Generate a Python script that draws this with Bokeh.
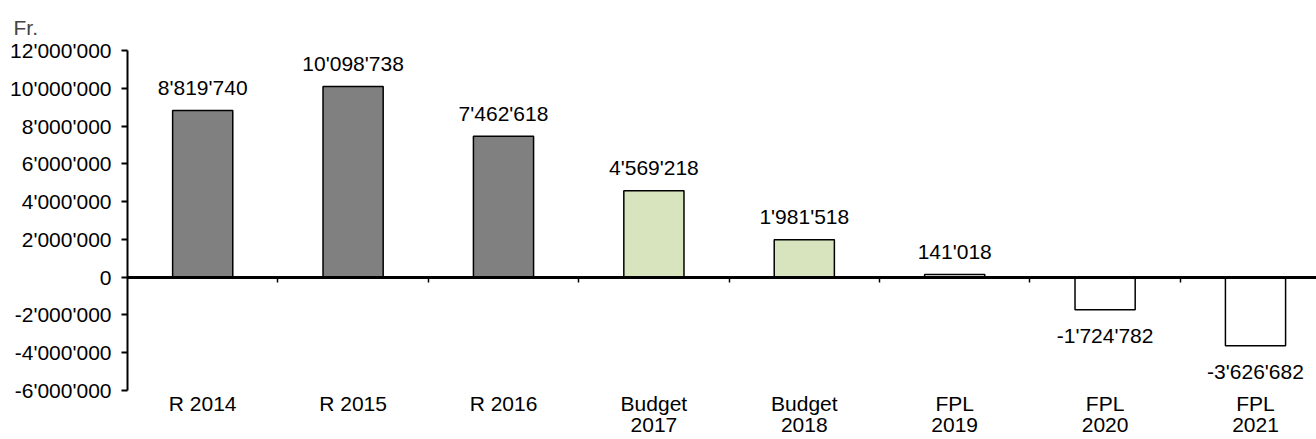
from bokeh.plotting import figure
from bokeh.models import Range1d, LinearAxis, FixedTicker, ColumnDataSource
from bokeh.core.properties import value
from bokeh.embed import file_html
from bokeh.resources import INLINE

categories = ["R 2014", "R 2015", "R 2016", "Budget\n2017", "Budget\n2018", "FPL\n2019", "FPL\n2020", "FPL\n2021"]
values = [8819740, 10098738, 7462618, 4569218, 1981518, 141018, -1724782, -3626682]
colors = ["#808080", "#808080", "#808080", "#D7E4BD", "#D7E4BD", "#FFFFFF", "#FFFFFF", "#FFFFFF"]
y_ticks = [-6000000, -4000000, -2000000, 0, 2000000, 4000000, 6000000, 8000000, 10000000, 12000000]
unit_label = "Fr."

FONT = "Liberation Sans"
FS = "21px"

def fmt(v):
    return f"{v:,}".replace(",", "'")

n = len(categories)
xc = [i + 0.5 for i in range(n)]

W, H = 1316, 439
LEFT, TOP, BOTTOM = 127, 50, 49
CAT_PX = 150.4
p = figure(width=W, height=H, output_backend="svg", toolbar_location=None,
           x_range=Range1d(0, (W - LEFT) / CAT_PX), y_range=Range1d(y_ticks[0], y_ticks[-1]),
           min_border_left=LEFT, min_border_right=0, min_border_top=TOP, min_border_bottom=BOTTOM,
           x_axis_type=None, y_axis_type=None)
p.outline_line_color = None
p.xgrid.visible = False
p.ygrid.visible = False

# unit label above the y axis
p.title.text = unit_label
p.title.align = "left"
p.title.offset = -114
p.title.text_font = FONT
p.title.text_font_size = FS
p.title.text_font_style = "normal"
p.title.standoff = 24

src = ColumnDataSource(dict(x=xc, top=values, color=colors))
p.vbar(x="x", top="top", bottom=0, width=0.4, source=src, fill_color="color",
       line_color="black", line_width=1.5)

pos = ColumnDataSource(dict(x=[x for x, v in zip(xc, values) if v >= 0],
                            y=[v for v in values if v >= 0],
                            t=[fmt(v) for v in values if v >= 0]))
neg = ColumnDataSource(dict(x=[x for x, v in zip(xc, values) if v < 0],
                            y=[v for v in values if v < 0],
                            t=[fmt(v) for v in values if v < 0]))
p.text(x="x", y="y", text="t", source=pos, text_align="center", text_baseline="alphabetic",
       y_offset=-23, text_font=value(FONT), text_font_size=FS, text_color="black")
p.text(x="x", y="y", text="t", source=neg, text_align="center", text_baseline="top",
       y_offset=14, text_font=value(FONT), text_font_size=FS, text_color="black")

# y axis
yax = LinearAxis(ticker=FixedTicker(ticks=y_ticks),
                 major_label_overrides={t: fmt(t) for t in y_ticks})
yax.axis_line_width = 2
yax.major_tick_line_width = 2
yax.major_tick_in = 0
yax.major_tick_out = 6
yax.minor_tick_line_color = None
yax.major_label_standoff = 10
yax.major_label_text_font = FONT
yax.major_label_text_font_size = FS
yax.major_label_text_color = "black"
p.add_layout(yax, "left")

# zero axis with category separators (no labels)
zax = LinearAxis(fixed_location=0, ticker=FixedTicker(ticks=list(range(1, n))))
zax.axis_line_width = 3
zax.major_tick_line_width = 1.5
zax.major_tick_in = 0
zax.major_tick_out = 5
zax.minor_tick_line_color = None
zax.major_label_text_color = None
zax.major_label_standoff = 0
p.add_layout(zax, "below")

# category labels at the bottom
cax = LinearAxis(ticker=FixedTicker(ticks=xc),
                 major_label_overrides={x: c for x, c in zip(xc, categories)})
cax.axis_line_color = None
cax.major_tick_line_color = None
cax.major_tick_in = 0
cax.major_tick_out = 0
cax.minor_tick_line_color = None
cax.minor_tick_in = 0
cax.minor_tick_out = 0
cax.major_label_standoff = 1
cax.major_label_text_font = FONT
cax.major_label_text_font_size = FS
cax.major_label_text_color = "black"
cax.major_label_text_line_height = 0.95
p.add_layout(cax, "below")

open("out.html", "w").write(file_html(p, INLINE))
